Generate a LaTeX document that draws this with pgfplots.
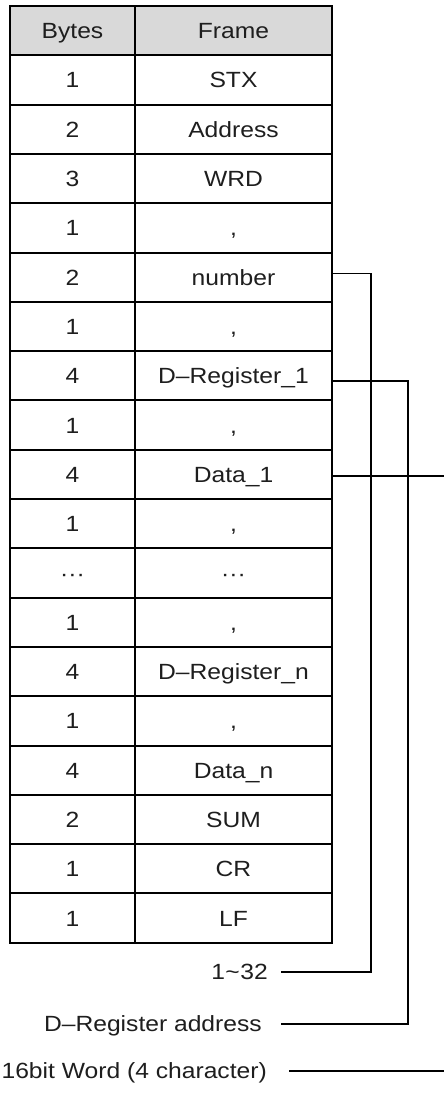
\documentclass[border=0pt]{standalone}
\usepackage{fontspec}
\setmainfont{Liberation Sans}[FakeStretch=1.12]
\usepackage{pgfplots}
\pgfplotsset{compat=1.18}
\definecolor{headgray}{HTML}{D9D9D9}
\definecolor{txt}{HTML}{1E1E1E}
\tikzset{cell/.style={font=\fontsize{22}{26}\selectfont, text=txt, inner sep=0pt, text height=15.8pt, text depth=0pt, anchor=center}}
\begin{document}
\begin{tikzpicture}
\begin{axis}[name=ax, width=444pt, height=1106pt, scale only axis,
  xmin=0, xmax=444, ymin=0, ymax=1106, y dir=reverse, hide axis, clip=false,
  unbounded coords=jump]
\coordinate (SW) at (rel axis cs:0,0);
\coordinate (NE) at (rel axis cs:1,1);
% header fill
\addplot[fill=headgray, draw=none, mark=none] coordinates {(10,6) (332,6) (332,55.3) (10,55.3)} -- cycle;
% horizontal rules
\addplot[black, line width=2pt, line cap=rect, mark=none] coordinates {
(10,6) (332,6) (nan,nan)
(10,55.3) (332,55.3) (nan,nan)
(10,104.6) (332,104.6) (nan,nan)
(10,153.9) (332,153.9) (nan,nan)
(10,203.2) (332,203.2) (nan,nan)
(10,252.5) (332,252.5) (nan,nan)
(10,301.8) (332,301.8) (nan,nan)
(10,351.1) (332,351.1) (nan,nan)
(10,400.4) (332,400.4) (nan,nan)
(10,449.7) (332,449.7) (nan,nan)
(10,499.0) (332,499.0) (nan,nan)
(10,548.3) (332,548.3) (nan,nan)
(10,597.6) (332,597.6) (nan,nan)
(10,646.9) (332,646.9) (nan,nan)
(10,696.2) (332,696.2) (nan,nan)
(10,745.5) (332,745.5) (nan,nan)
(10,794.8) (332,794.8) (nan,nan)
(10,844.1) (332,844.1) (nan,nan)
(10,893.4) (332,893.4) (nan,nan)
(10,942.7) (332,942.7)
};
% vertical rules
\addplot[black, line width=2pt, line cap=rect, mark=none] coordinates {
(10,6) (10,942.7) (nan,nan)
(135,6) (135,942.7) (nan,nan)
(332,6) (332,942.7)
};
% connectors
\addplot[black, line width=1.6pt, mark=none] coordinates {(332,273.3) (371,273.3) (371,972) (281,972)};
\addplot[black, line width=1.6pt, mark=none] coordinates {(332,380.7) (408,380.7) (408,1024) (281,1024)};
\addplot[black, line width=1.6pt, mark=none] coordinates {(332,475.7) (446,475.7)};
\addplot[black, line width=1.6pt, mark=none] coordinates {(289,1071) (446,1071)};
% cell texts
\node[cell] at (axis cs:72.5,30.7) {Bytes};
\node[cell] at (axis cs:233.5,30.7) {Frame};
\node[cell] at (axis cs:72.5,79.9) {1};   \node[cell] at (axis cs:233.5,79.9) {STX};
\node[cell] at (axis cs:72.5,129.3) {2};  \node[cell] at (axis cs:233.5,129.3) {Address};
\node[cell] at (axis cs:72.5,178.6) {3};  \node[cell] at (axis cs:233.5,178.6) {WRD};
\node[cell] at (axis cs:72.5,227.9) {1};  \node[cell] at (axis cs:233.5,227.9) {,};
\node[cell] at (axis cs:72.5,277.2) {2};  \node[cell] at (axis cs:233.5,277.2) {number};
\node[cell] at (axis cs:72.5,326.5) {1};  \node[cell] at (axis cs:233.5,326.5) {,};
\node[cell] at (axis cs:72.5,375.8) {4};  \node[cell] at (axis cs:233.5,375.8) {D–Register\_1};
\node[cell] at (axis cs:72.5,425.1) {1};  \node[cell] at (axis cs:233.5,425.1) {,};
\node[cell] at (axis cs:72.5,474.4) {4};  \node[cell] at (axis cs:233.5,474.4) {Data\_1};
\node[cell] at (axis cs:72.5,523.7) {1};  \node[cell] at (axis cs:233.5,523.7) {,};
\node[cell, text height=0pt, anchor=base] at (axis cs:72.5,581) {···};
\node[cell, text height=0pt, anchor=base] at (axis cs:233.5,581) {···};
\node[cell] at (axis cs:72.5,622.3) {1};  \node[cell] at (axis cs:233.5,622.3) {,};
\node[cell] at (axis cs:72.5,671.6) {4};  \node[cell] at (axis cs:233.5,671.6) {D–Register\_n};
\node[cell] at (axis cs:72.5,720.9) {1};  \node[cell] at (axis cs:233.5,720.9) {,};
\node[cell] at (axis cs:72.5,770.2) {4};  \node[cell] at (axis cs:233.5,770.2) {Data\_n};
\node[cell] at (axis cs:72.5,819.5) {2};  \node[cell] at (axis cs:233.5,819.5) {SUM};
\node[cell] at (axis cs:72.5,868.8) {1};  \node[cell] at (axis cs:233.5,868.8) {CR};
\node[cell] at (axis cs:72.5,918.1) {1};  \node[cell] at (axis cs:233.5,918.1) {LF};
% side labels
\node[cell, anchor=east] at (axis cs:268,972) {1\kern0.5pt\textasciitilde\kern0.5pt 32};
\node[cell, anchor=east] at (axis cs:262,1024) {D–Register address};
\node[cell, anchor=east] at (axis cs:267,1071) {16bit Word (4 character)};
\end{axis}
\pgfresetboundingbox
\path (SW) rectangle (NE);
\end{tikzpicture}
\end{document}
